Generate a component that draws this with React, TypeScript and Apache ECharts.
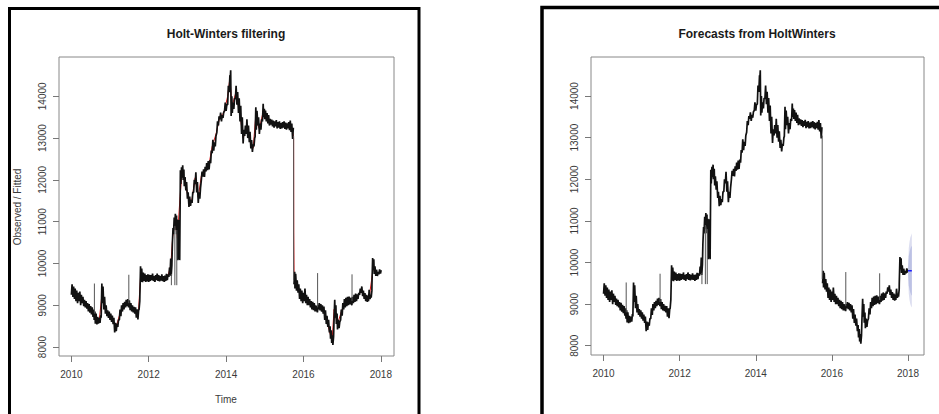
import React, { useEffect, useRef } from "react";
import * as echarts from "echarts";

// Daily series summarised as [year, low, high] per short slice, before and
// after the break in late 2015.
const observedBefore: [number, number, number][] = [
  [2010.0, 9250, 9500], [2010.04, 9200, 9450], [2010.08, 9150, 9400], [2010.12, 9100, 9350],
  [2010.16, 9050, 9300], [2010.2, 9100, 9330], [2010.24, 9000, 9250], [2010.28, 9050, 9200],
  [2010.32, 8980, 9130], [2010.36, 8950, 9100], [2010.4, 8920, 9050], [2010.44, 8850, 9030],
  [2010.48, 8820, 8980], [2010.52, 8780, 8950], [2010.56, 8720, 8900], [2010.59, 8650, 8850],
  [2010.62, 8560, 8800], [2010.66, 8540, 8720], [2010.7, 8560, 8700], [2010.74, 8580, 8760],
  [2010.77, 8700, 9520], [2010.8, 9050, 9450], [2010.84, 8900, 9200], [2010.88, 8800, 9000],
  [2010.92, 8740, 8880], [2010.96, 8700, 8850], [2011.0, 8650, 8800], [2011.04, 8600, 8750],
  [2011.08, 8550, 8700], [2011.12, 8350, 8580], [2011.16, 8380, 8560], [2011.2, 8480, 8650],
  [2011.24, 8650, 8900], [2011.28, 8740, 9000], [2011.32, 8850, 9050], [2011.36, 8900, 9080],
  [2011.4, 8950, 9130], [2011.44, 8980, 9150], [2011.48, 8950, 9120], [2011.52, 8880, 9050],
  [2011.56, 8850, 9000], [2011.6, 8830, 8960], [2011.64, 8800, 8950], [2011.68, 8700, 8900],
  [2011.72, 8660, 8880], [2011.75, 8900, 9100], [2011.77, 9200, 9930], [2011.8, 9560, 9880],
  [2011.84, 9550, 9780], [2011.88, 9580, 9760], [2011.92, 9560, 9720], [2011.96, 9570, 9740],
  [2012.0, 9560, 9730], [2012.04, 9580, 9720], [2012.08, 9600, 9760], [2012.12, 9580, 9700],
  [2012.16, 9560, 9720], [2012.2, 9600, 9760], [2012.24, 9580, 9720], [2012.28, 9570, 9700],
  [2012.32, 9590, 9740], [2012.36, 9580, 9700], [2012.4, 9560, 9710], [2012.44, 9580, 9750],
  [2012.48, 9600, 9740], [2012.52, 9680, 9900], [2012.55, 9720, 10120], [2012.58, 9700, 9950],
  [2012.61, 10450, 10850], [2012.64, 10700, 11100], [2012.67, 10800, 11190], [2012.7, 10950, 11150],
  [2012.72, 10700, 11050], [2012.75, 10080, 11040], [2012.78, 10100, 10900], [2012.8, 10080, 12230],
  [2012.83, 11900, 12300], [2012.86, 12050, 12350], [2012.89, 12000, 12250], [2012.92, 11850, 12070],
  [2012.96, 11750, 11950], [2013.0, 11550, 11700], [2013.04, 11350, 11600], [2013.08, 11380, 11520],
  [2013.12, 11450, 11700], [2013.16, 11700, 12000], [2013.2, 11900, 12180], [2013.24, 11700, 11950],
  [2013.28, 11450, 11700], [2013.32, 11550, 11800], [2013.36, 12000, 12200], [2013.4, 12080, 12250],
  [2013.44, 12070, 12310], [2013.48, 12200, 12400], [2013.52, 12230, 12450], [2013.56, 12250, 12470],
  [2013.6, 12400, 12700], [2013.64, 12640, 12960], [2013.68, 12700, 12900], [2013.72, 12800, 13050],
  [2013.76, 13130, 13400], [2013.8, 13300, 13520], [2013.84, 13450, 13610], [2013.88, 13400, 13550],
  [2013.92, 13480, 13620], [2013.96, 13650, 13850], [2014.0, 13650, 13800], [2014.04, 13800, 14250],
  [2014.08, 14100, 14500], [2014.1, 14300, 14620], [2014.13, 13530, 14000], [2014.16, 13600, 13850],
  [2014.2, 13700, 13950], [2014.24, 13930, 14250], [2014.28, 13800, 14100], [2014.32, 13600, 13950],
  [2014.36, 13400, 13770], [2014.4, 13100, 13500], [2014.44, 12870, 13200], [2014.48, 13050, 13300],
  [2014.52, 13100, 13450], [2014.56, 13000, 13300], [2014.6, 12900, 13150], [2014.64, 12750, 12950],
  [2014.68, 12670, 12850], [2014.72, 12800, 13000], [2014.75, 13030, 13740], [2014.78, 13200, 13650],
  [2014.82, 13300, 13500], [2014.86, 13100, 13350], [2014.9, 13200, 13450], [2014.94, 13400, 13820],
  [2014.97, 13500, 13700], [2015.0, 13450, 13660], [2015.04, 13400, 13600], [2015.08, 13350, 13550],
  [2015.12, 13300, 13460], [2015.16, 13320, 13440], [2015.2, 13280, 13420], [2015.24, 13250, 13400],
  [2015.28, 13280, 13430], [2015.32, 13230, 13380], [2015.36, 13250, 13400], [2015.4, 13220, 13360],
  [2015.44, 13230, 13380], [2015.48, 13250, 13400], [2015.52, 13220, 13370], [2015.56, 13200, 13350],
  [2015.6, 13230, 13380], [2015.64, 13190, 13420], [2015.68, 13150, 13350], [2015.72, 12980, 13250],
];

const observedAfter: [number, number, number][] = [
  [2015.755, 9500, 9800], [2015.78, 9400, 9750], [2015.82, 9350, 9600], [2015.86, 9300, 9500],
  [2015.9, 9150, 9400], [2015.94, 9100, 9350], [2015.98, 9050, 9300], [2016.02, 9100, 9400],
  [2016.06, 9050, 9250], [2016.1, 9000, 9200], [2016.14, 9000, 9150], [2016.18, 8950, 9100],
  [2016.22, 8900, 9080], [2016.26, 8880, 9050], [2016.3, 8850, 9000], [2016.33, 8850, 8980],
  [2016.36, 8830, 9000], [2016.39, 8900, 9050], [2016.43, 8880, 9030], [2016.47, 8850, 9000],
  [2016.51, 8800, 8970], [2016.55, 8650, 8880], [2016.59, 8550, 8750], [2016.63, 8480, 8650],
  [2016.67, 8350, 8500], [2016.7, 8200, 8400], [2016.73, 8100, 8280], [2016.76, 8050, 8250],
  [2016.79, 8650, 9130], [2016.82, 8700, 9000], [2016.85, 8550, 8800], [2016.88, 8420, 8650],
  [2016.92, 8450, 8600], [2016.96, 8650, 8900], [2017.0, 8750, 9050], [2017.04, 8900, 9150],
  [2017.08, 8950, 9180], [2017.12, 8980, 9200], [2017.16, 9000, 9210], [2017.2, 9020, 9180],
  [2017.25, 9000, 9200], [2017.29, 9050, 9250], [2017.33, 9080, 9280], [2017.37, 9100, 9260],
  [2017.41, 9150, 9300], [2017.45, 9250, 9400], [2017.49, 9300, 9450], [2017.53, 9220, 9350],
  [2017.57, 9150, 9290], [2017.61, 9100, 9250], [2017.65, 9080, 9230], [2017.68, 9100, 9370],
  [2017.72, 9150, 9250], [2017.75, 9180, 9350], [2017.77, 9500, 10130], [2017.8, 9850, 10100],
  [2017.83, 9750, 9930], [2017.87, 9700, 9850], [2017.91, 9700, 9800], [2017.95, 9740, 9860],
  [2017.99, 9760, 9840],
];

// Single-day excursions and the one-day fall in 2015: [year, from, to]
const spikes: [number, number, number][] = [
  [2010.595, 8800, 9520],
  [2011.485, 9050, 9730],
  [2012.585, 9750, 9480],
  [2012.675, 10900, 9480],
  [2012.725, 10800, 9480],
  [2015.745, 13050, 9600],
  [2016.365, 8950, 9770],
  [2017.255, 9100, 9740],
];

// Holt-Winters fitted values [year, value]
const fittedValues: [number, number][] = [
  [2010.02, 9350], [2010.12, 9230], [2010.22, 9200], [2010.32, 9060], [2010.42, 8980],
  [2010.52, 8860], [2010.62, 8680], [2010.72, 8640], [2010.79, 9250], [2010.88, 8900],
  [2010.98, 8770], [2011.08, 8620], [2011.15, 8460], [2011.25, 8780], [2011.35, 8980],
  [2011.45, 9060], [2011.55, 8950], [2011.65, 8880], [2011.73, 8780], [2011.79, 9700],
  [2011.9, 9650], [2012.0, 9640], [2012.1, 9680], [2012.2, 9670], [2012.3, 9640],
  [2012.4, 9650], [2012.5, 9720], [2012.57, 9950], [2012.62, 10650], [2012.68, 11000],
  [2012.74, 10600], [2012.81, 11600], [2012.86, 12200], [2012.94, 11950], [2013.04, 11480],
  [2013.12, 11550], [2013.2, 12050], [2013.28, 11580], [2013.36, 12100], [2013.46, 12250],
  [2013.56, 12380], [2013.64, 12800], [2013.74, 13100], [2013.84, 13520], [2013.94, 13600],
  [2014.04, 14000], [2014.1, 14450], [2014.15, 13750], [2014.24, 14050], [2014.34, 13700],
  [2014.44, 13000], [2014.54, 13250], [2014.64, 12850], [2014.7, 12760], [2014.76, 13450],
  [2014.86, 13220], [2014.95, 13600], [2015.05, 13500], [2015.2, 13350], [2015.35, 13320],
  [2015.5, 13320], [2015.65, 13300], [2015.73, 13100], [2015.745, 13000], [2015.749, 10750],
  [2015.758, 9700], [2015.8, 9550], [2015.86, 9400], [2015.96, 9200], [2016.06, 9150],
  [2016.16, 9050], [2016.26, 8960], [2016.36, 8920], [2016.46, 8950], [2016.56, 8760],
  [2016.66, 8420], [2016.74, 8150], [2016.79, 8900], [2016.88, 8550], [2016.98, 8850],
  [2017.08, 9080], [2017.2, 9100], [2017.3, 9160], [2017.42, 9230], [2017.5, 9360],
  [2017.6, 9180], [2017.7, 9200], [2017.76, 9600], [2017.81, 9950], [2017.9, 9760],
  [2017.99, 9800],
];

// Forecast horizon: point forecast with 80% and 95% intervals
const forecastTime = [2018.0, 2018.02, 2018.04, 2018.06, 2018.08, 2018.1];
const forecastMean = [9800, 9800, 9800, 9800, 9800, 9800];
const lower80 = [9800, 9450, 9350, 9280, 9230, 9200];
const upper80 = [9800, 10150, 10250, 10320, 10370, 10400];
const lower95 = [9800, 9250, 9100, 9000, 8950, 8920];
const upper95 = [9800, 10350, 10500, 10600, 10650, 10700];

const yearTicks = [2010, 2012, 2014, 2016, 2018];
const valueTicks = [8000, 9000, 10000, 11000, 12000, 13000, 14000];

const FONT = "'Liberation Sans', Arial, Helvetica, sans-serif";

// Each slice contributes its low, then its high half a step later, so the
// line sweeps out the day-to-day range as a dense band.
function bandPath(rows: [number, number, number][]): [number, number][] {
  const pts: [number, number][] = [];
  rows.forEach(([t, lo, hi]) => {
    pts.push([t, lo]);
    pts.push([t + 0.018, hi]);
  });
  return pts;
}

function observedSeries(axis: number) {
  const common = {
    type: "line",
    xAxisIndex: axis,
    yAxisIndex: axis,
    showSymbol: false,
    silent: true,
    lineStyle: { color: "#111", width: 1.7 },
    z: 2,
  };
  const spikeSeries = spikes.map(([t, from, to]) => ({
    type: "line",
    xAxisIndex: axis,
    yAxisIndex: axis,
    showSymbol: false,
    silent: true,
    data: [
      [t, from],
      [t, to],
    ],
    lineStyle: { color: "#555", width: 1 },
    z: 2,
  }));
  return [
    { ...common, data: bandPath(observedBefore) },
    { ...common, data: bandPath(observedAfter) },
    ...spikeSeries,
  ];
}

function xAxisFor(gridIndex: number, min: number, max: number) {
  return {
    type: "value" as const,
    gridIndex,
    min,
    max,
    splitLine: { show: false },
    axisLine: { show: false },
    axisTick: {
      show: true,
      length: 6,
      customValues: yearTicks,
      lineStyle: { color: "#777", width: 1 },
    },
    axisLabel: {
      customValues: yearTicks,
      margin: 13,
      fontSize: 10,
      fontFamily: FONT,
      color: "#3a3a3a",
      formatter: (v: number) => String(Math.round(v)),
    },
  };
}

function yAxisFor(gridIndex: number, min: number, max: number) {
  return {
    type: "value" as const,
    gridIndex,
    min,
    max,
    splitLine: { show: false },
    axisLine: { show: false },
    axisTick: {
      show: true,
      length: 6,
      customValues: valueTicks,
      lineStyle: { color: "#777", width: 1 },
    },
    axisLabel: {
      customValues: valueTicks,
      rotate: 90,
      margin: 12,
      fontSize: 10,
      fontFamily: FONT,
      color: "#3a3a3a",
      formatter: (v: number) => String(Math.round(v)),
    },
  };
}

export default function App() {
  const ref = useRef<HTMLDivElement>(null);

  useEffect(() => {
    if (!ref.current) return;
    const chart = echarts.init(ref.current, undefined, { renderer: "svg" });

    chart.setOption({
      animation: false,
      backgroundColor: "#fff",
      grid: [
        { left: 59, top: 57, width: 335, height: 299, show: true, borderColor: "#888", borderWidth: 1, backgroundColor: "transparent" },
        { left: 591, top: 57, width: 333, height: 298, show: true, borderColor: "#888", borderWidth: 1, backgroundColor: "transparent" },
      ],
      xAxis: [xAxisFor(0, 2009.68, 2018.34), xAxisFor(1, 2009.67, 2018.42)],
      yAxis: [yAxisFor(0, 7786, 14940), yAxisFor(1, 7777, 14937)],
      series: [
        {
          name: "fitted",
          type: "line",
          xAxisIndex: 0,
          yAxisIndex: 0,
          data: fittedValues,
          showSymbol: false,
          silent: true,
          lineStyle: { color: "#d81818", width: 1 },
          z: 1,
        },
        ...observedSeries(0),
        ...observedSeries(1),
        {
          name: "intervals",
          type: "custom",
          xAxisIndex: 1,
          yAxisIndex: 1,
          data: [[forecastTime[0], forecastMean[0]]],
          z: 3,
          silent: true,
          renderItem: (_params: any, api: any) => {
            const poly = (lo: number[], hi: number[]) => {
              const top = forecastTime.map((t, i) => api.coord([t, hi[i]]));
              const bottom = forecastTime.map((t, i) => api.coord([t, lo[i]])).reverse();
              return top.concat(bottom);
            };
            return {
              type: "group",
              children: [
                { type: "polygon", shape: { points: poly(lower95, upper95) }, style: { fill: "#dcdef0" } },
                { type: "polygon", shape: { points: poly(lower80, upper80) }, style: { fill: "#bcc1e4" } },
              ],
            };
          },
        },
        {
          name: "forecast",
          type: "line",
          xAxisIndex: 1,
          yAxisIndex: 1,
          data: forecastTime.map((t, i) => [t, forecastMean[i]]),
          showSymbol: false,
          silent: true,
          lineStyle: { color: "#1a1aff", width: 1.5 },
          z: 4,
        },
      ],
      graphic: [
        {
          type: "rect",
          shape: { x: 9.5, y: 8.5, width: 409.5, height: 420 },
          style: { fill: "none", stroke: "#000", lineWidth: 3 },
          silent: true,
        },
        {
          type: "rect",
          shape: { x: 542, y: 7.5, width: 420, height: 420 },
          style: { fill: "none", stroke: "#000", lineWidth: 3.5 },
          silent: true,
        },
        {
          type: "text",
          x: 226,
          y: 34,
          style: { text: "Holt-Winters filtering", font: `bold 12px ${FONT}`, fill: "#1a1a1a", textAlign: "center", textVerticalAlign: "middle" },
        },
        {
          type: "text",
          x: 757,
          y: 34,
          style: { text: "Forecasts from HoltWinters", font: `bold 12px ${FONT}`, fill: "#1a1a1a", textAlign: "center", textVerticalAlign: "middle" },
        },
        {
          type: "text",
          x: 226,
          y: 399,
          style: { text: "Time", font: `10px ${FONT}`, fill: "#3a3a3a", textAlign: "center", textVerticalAlign: "middle" },
        },
        {
          type: "text",
          x: 17,
          y: 207,
          rotation: Math.PI / 2,
          style: { text: "Observed / Fitted", font: `10px ${FONT}`, fill: "#3a3a3a", textAlign: "center", textVerticalAlign: "middle" },
        },
      ],
    });

    return () => chart.dispose();
  }, []);

  return (
    <div
      ref={ref}
      style={{ position: "absolute", left: 0, top: 0, width: 939, height: 414 }}
    />
  );
}
